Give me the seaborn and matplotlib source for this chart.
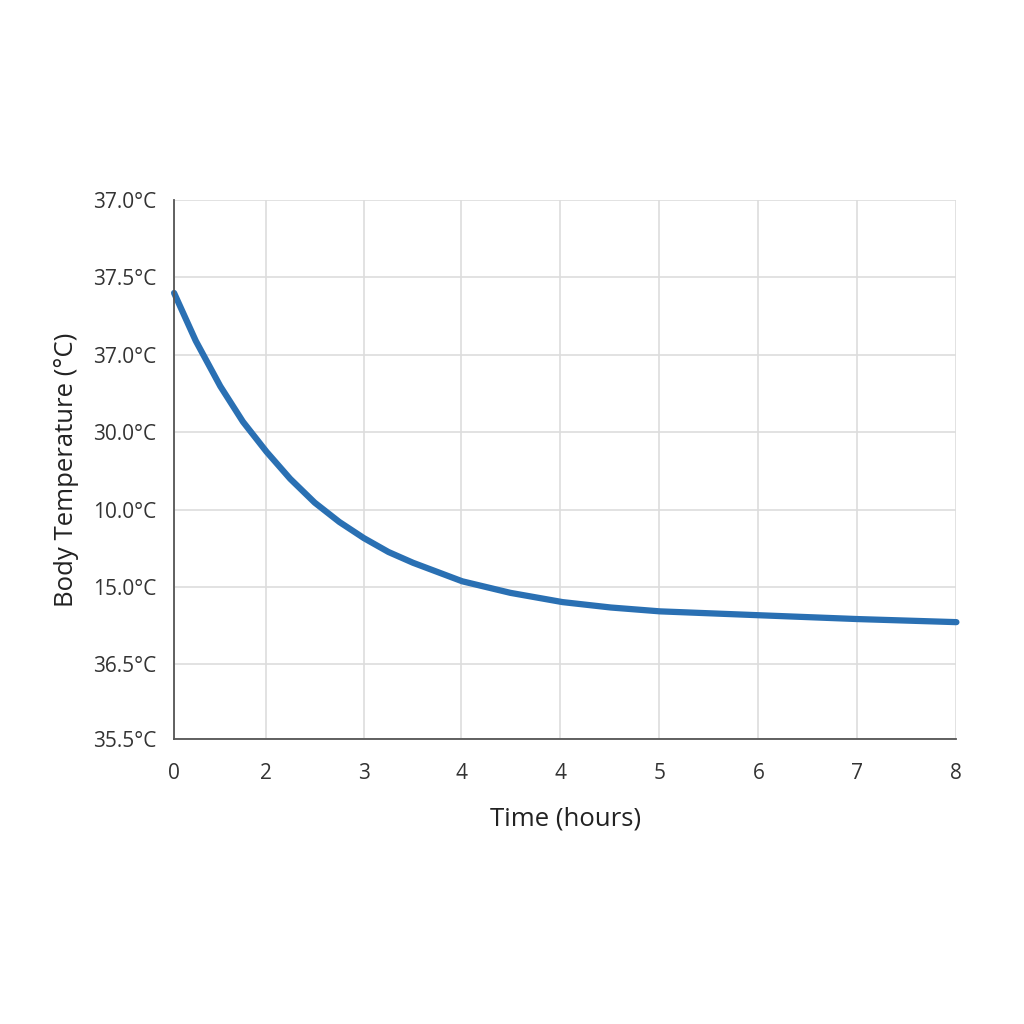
import matplotlib
matplotlib.use("Agg")
import matplotlib.pyplot as plt
import seaborn as sns
import pandas as pd

# values, in grid units (x: one unit ~ one hour gap, y: one unit ~ one y gap)
time_pos = [0, 0.22, 0.47, 0.70, 0.94, 1.18, 1.43, 1.68, 1.93, 2.18, 2.43, 2.68, 2.93,
            3.42, 3.95, 4.44, 4.94, 5.94, 6.95, 7.955]
temp_pos = [5.79, 5.17, 4.58, 4.12, 3.73, 3.38, 3.07, 2.82, 2.61, 2.43, 2.29, 2.17, 2.05,
            1.90, 1.78, 1.71, 1.66, 1.61, 1.56, 1.52]

x_tick_pos = [0, 0.936, 1.933, 2.920, 3.927, 4.934, 5.941, 6.948, 7.955]
x_tick_labels = ["0", "2", "3", "4", "4", "5", "6", "7", "8"]
y_tick_pos = [0, 0.974, 1.974, 2.974, 3.987, 4.987, 6.0, 7.0]
y_tick_labels = ["35.5°C", "36.5°C", "15.0°C", "10.0°C", "30.0°C", "37.0°C", "37.5°C", "37.0°C"]

df = pd.DataFrame({"time": time_pos, "temp": temp_pos})

sns.set_style("white")
plt.rcParams["font.family"] = ["Open Sans", "DejaVu Sans"]

fig = plt.figure(figsize=(10.24, 10.24), dpi=100)
ax = fig.add_axes([0.170, 0.278, 0.764, 0.527])

sns.lineplot(data=df, x="time", y="temp", ax=ax, color="#2a70b3",
             linewidth=4.5, solid_capstyle="round", clip_on=False)

ax.set_xlim(0, x_tick_pos[-1])
ax.set_ylim(0, 7)
ax.set_xticks(x_tick_pos)
ax.set_xticklabels(x_tick_labels)
ax.set_yticks(y_tick_pos)
ax.set_yticklabels(y_tick_labels)

ax.grid(True, color="#dddddd", linewidth=1.2)
for side in ["top", "right"]:
    ax.spines[side].set_visible(False)
for side in ["left", "bottom"]:
    ax.spines[side].set_color("#555555")
    ax.spines[side].set_linewidth(1.3)

ax.tick_params(axis="both", direction="out", length=7, width=1.2, color="#555555",
               labelsize=15, labelcolor="#333333")
ax.tick_params(axis="x", pad=10)
ax.tick_params(axis="y", pad=6)

ax.set_xlabel("Time (hours)", fontsize=18.5, color="#222222", labelpad=16)
ax.set_ylabel("Body Temperature (°C)", fontsize=18.5, color="#222222", labelpad=10)

fig.savefig("out.png", dpi=100, facecolor="white")
plt.close(fig)
